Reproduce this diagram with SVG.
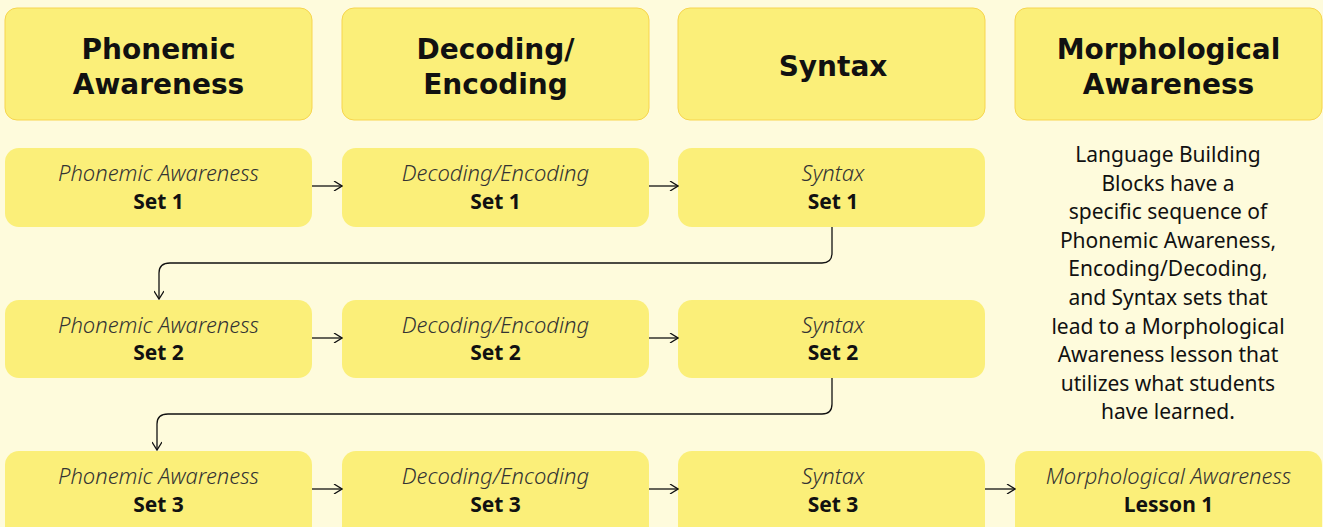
<svg xmlns="http://www.w3.org/2000/svg" width="1323" height="527" viewBox="0 0 1323 527">
<style>
.bg{fill:#FEFBDC}
.hdr{fill:#FBEF79;stroke:#F7D54E;stroke-width:1}
.box{fill:#FBEF79}
.ht{font-family:"DejaVu Sans",Inter,sans-serif;font-weight:700;font-size:28px;fill:#111;text-anchor:middle}
.it{font-family:"Source Sans Pro","Noto Sans",sans-serif;font-style:italic;font-weight:300;font-size:22px;fill:#333;text-anchor:middle}
.bd{font-family:"Source Sans Pro","Noto Sans",sans-serif;font-weight:700;font-size:21px;fill:#111;text-anchor:middle}
.desc{font-family:"Source Sans Pro","Noto Sans",sans-serif;font-size:21px;fill:#111;text-anchor:middle}
.con{fill:none;stroke:#111;stroke-width:1.3}
</style>
<defs>
<marker id="ah" viewBox="0 0 10 10" refX="9" refY="5" markerWidth="10" markerHeight="10" markerUnits="userSpaceOnUse" orient="auto">
<path d="M1,0 L9,5 L1,10" fill="none" stroke="#111" stroke-width="1.3"/>
</marker>
</defs>
<rect class="bg" x="0" y="0" width="1323" height="527"/>
<g id="h1"><rect class="hdr" x="5" y="8" width="307" height="112" rx="12"/><text class="ht" x="158.5" y="59">Phonemic</text><text class="ht" x="158.5" y="94">Awareness</text></g>
<g id="h2"><rect class="hdr" x="342" y="8" width="307" height="112" rx="12"/><text class="ht" x="495.5" y="59">Decoding/</text><text class="ht" x="495.5" y="94">Encoding</text></g>
<g id="h3"><rect class="hdr" x="678" y="8" width="307" height="112" rx="12"/><text class="ht" x="833" y="76">Syntax</text></g>
<g id="h4"><rect class="hdr" x="1015" y="8" width="307" height="112" rx="12"/><text class="ht" x="1168.5" y="59">Morphological</text><text class="ht" x="1168.5" y="94">Awareness</text></g>

<g id="pa1"><rect class="box" x="5" y="148" width="307" height="79" rx="14"/><text class="it" x="158.5" y="181">Phonemic Awareness</text><text class="bd" x="158.5" y="209">Set 1</text></g>
<g id="de1"><rect class="box" x="342" y="148" width="307" height="79" rx="14"/><text class="it" x="495.5" y="181">Decoding/Encoding</text><text class="bd" x="495.5" y="209">Set 1</text></g>
<g id="sy1"><rect class="box" x="678" y="148" width="307" height="79" rx="14"/><text class="it" x="833" y="181">Syntax</text><text class="bd" x="833" y="209">Set 1</text></g>

<g id="pa2"><rect class="box" x="5" y="300" width="307" height="78" rx="14"/><text class="it" x="158.5" y="333">Phonemic Awareness</text><text class="bd" x="158.5" y="360">Set 2</text></g>
<g id="de2"><rect class="box" x="342" y="300" width="307" height="78" rx="14"/><text class="it" x="495.5" y="333">Decoding/Encoding</text><text class="bd" x="495.5" y="360">Set 2</text></g>
<g id="sy2"><rect class="box" x="678" y="300" width="307" height="78" rx="14"/><text class="it" x="833" y="333">Syntax</text><text class="bd" x="833" y="360">Set 2</text></g>

<g id="pa3"><rect class="box" x="5" y="451" width="307" height="90" rx="14"/><text class="it" x="158.5" y="484">Phonemic Awareness</text><text class="bd" x="158.5" y="512">Set 3</text></g>
<g id="de3"><rect class="box" x="342" y="451" width="307" height="90" rx="14"/><text class="it" x="495.5" y="484">Decoding/Encoding</text><text class="bd" x="495.5" y="512">Set 3</text></g>
<g id="sy3"><rect class="box" x="678" y="451" width="307" height="90" rx="14"/><text class="it" x="833" y="484">Syntax</text><text class="bd" x="833" y="512">Set 3</text></g>
<g id="ml1"><rect class="box" x="1015" y="451" width="307" height="90" rx="14"/><text class="it" x="1168.5" y="484">Morphological Awareness</text><text class="bd" x="1168.5" y="512">Lesson 1</text></g>

<g id="note">
<text class="desc" x="1168" y="162">Language Building</text>
<text class="desc" x="1168" y="191">Blocks have a</text>
<text class="desc" x="1168" y="219">specific sequence of</text>
<text class="desc" x="1168" y="248">Phonemic Awareness,</text>
<text class="desc" x="1168" y="276">Encoding/Decoding,</text>
<text class="desc" x="1168" y="305">and Syntax sets that</text>
<text class="desc" x="1168" y="334">lead to a Morphological</text>
<text class="desc" x="1168" y="362">Awareness lesson that</text>
<text class="desc" x="1168" y="391">utilizes what students</text>
<text class="desc" x="1168" y="419">have learned.</text>
</g>

<g id="connectors">
<path class="con" d="M312,186 H342" marker-end="url(#ah)"/>
<path class="con" d="M649,186 H678" marker-end="url(#ah)"/>
<path class="con" d="M312,338 H342" marker-end="url(#ah)"/>
<path class="con" d="M649,338 H678" marker-end="url(#ah)"/>
<path class="con" d="M312,489 H342" marker-end="url(#ah)"/>
<path class="con" d="M649,489 H678" marker-end="url(#ah)"/>
<path class="con" d="M985,489 H1015" marker-end="url(#ah)"/>
<path class="con" d="M832,227 V253 Q832,263 822,263 H170 Q159,263 159,273 V299" marker-end="url(#ah)"/>
<path class="con" d="M832,378 V404 Q832,414 822,414 H168 Q157,414 157,424 V450" marker-end="url(#ah)"/>
</g>
</svg>
